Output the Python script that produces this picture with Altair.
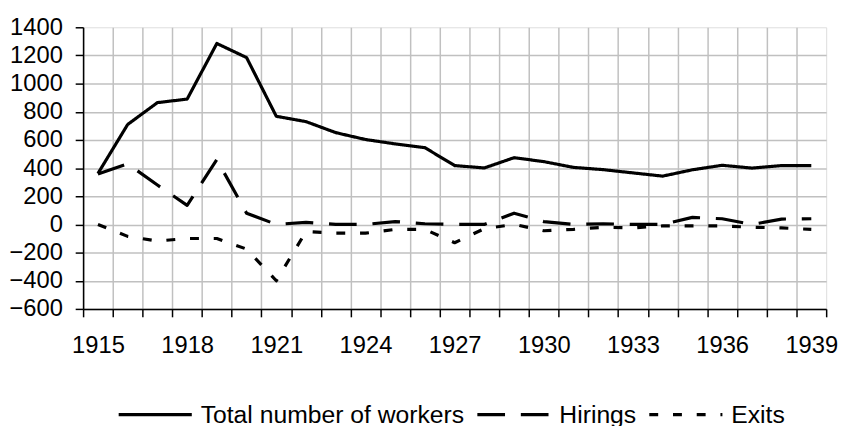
import altair as alt
import pandas as pd

years = list(range(1915, 1940))
total = [362, 710, 865, 890, 1285, 1185, 768, 730, 652, 603, 572, 545, 418,
         401, 474, 446, 405, 389, 366, 343, 388, 420, 400, 418, 418]
hirings = [358, 430, 280, 135, 460, 80, 0, 15, 0, 0, 20, 5, 0,
           0, 80, 20, 0, 5, 0, 0, 50, 40, 0, 38, 40]
exits = [0, -85, -118, -100, -100, -175, -400, -50, -62, -62, -35, -35, -130,
         -30, 0, -45, -35, -20, -25, -10, -10, -10, -20, -25, -35]
series_names = ["Total number of workers", "Hirings", "Exits"]
x_label_years = [1915, 1918, 1921, 1924, 1927, 1930, 1933, 1936, 1939]
y_ticks = list(range(-600, 1401, 200))

rows = []
for name, vals in zip(series_names, [total, hirings, exits]):
    for yr, v in zip(years, vals):
        rows.append({"year": yr, "value": v, "series": name})
df = pd.DataFrame(rows)

grid_positions = [yr - 0.5 for yr in years] + [years[-1] + 0.5]
x_values = grid_positions + x_label_years

FONT = "Liberation Sans"

x_axis = alt.Axis(
    values=x_values,
    title=None,
    labelExpr="datum.value % 1 == 0 ? '' + datum.value : ''",
    labelOverlap=False,
    labelFlush=False,
    labelFontSize=24,
    labelFont=FONT,
    labelColor="black",
    labelPadding=17,
    tickSize=8,
    tickColor="black",
    tickWidth=1.5,
    tickOpacity={"condition": {"test": "datum.value % 1 != 0", "value": 1}, "value": 0},
    grid=True,
    gridColor="#c0c0c0",
    gridWidth=1.5,
    gridOpacity={"condition": {"test": "datum.value % 1 != 0 && datum.value < 1939", "value": 1}, "value": 0},
    domainColor="black",
    domainWidth=1.5,
)

y_axis = alt.Axis(
    values=y_ticks,
    title=None,
    format="d",
    labelFontSize=24,
    labelFont=FONT,
    labelColor="black",
    labelPadding=13,
    tickSize=8,
    tickColor="black",
    tickWidth=1.5,
    grid=True,
    gridColor="#c0c0c0",
    gridWidth=1.5,
    gridOpacity={"condition": {"test": "datum.value < 1400", "value": 1}, "value": 0},
    domainColor="black",
    domainWidth=1.5,
)

chart = alt.Chart(df).mark_line(strokeWidth=3.2, strokeCap="butt", strokeJoin="round").encode(
    x=alt.X("year:Q", scale=alt.Scale(domain=[1914.5, 1939.5], nice=False, zero=False), axis=x_axis),
    y=alt.Y("value:Q", scale=alt.Scale(domain=[-600, 1400], nice=False), axis=y_axis),
    color=alt.value("black"),
    strokeDash=alt.StrokeDash(
        "series:N",
        scale=alt.Scale(domain=series_names, range=[[1, 0], [28, 16], [9, 15]]),
        sort=series_names,
        legend=alt.Legend(
            title=None,
            orient="none",
            legendX=34,
            legendY=353,
            direction="horizontal",
            symbolType="stroke",
            symbolSize=5476,
            symbolStrokeWidth=3.2,
            symbolStrokeColor="black",
            labelFontSize=25,
            labelFont=FONT,
            labelColor="black",
            labelOffset=7,
            columnPadding=6,
            labelLimit=500,
        ),
    ),
    detail="series:N",
).properties(
    width=752,
    height=285,
    autosize=alt.AutoSizeParams(type="none"),
    padding={"left": 76, "top": 17, "right": 14, "bottom": 118},
).configure_view(
    stroke="#808080",
    strokeWidth=1.5,
).configure(background="white")

chart.save("out.html", embed_options={"renderer": "svg", "actions": False})
